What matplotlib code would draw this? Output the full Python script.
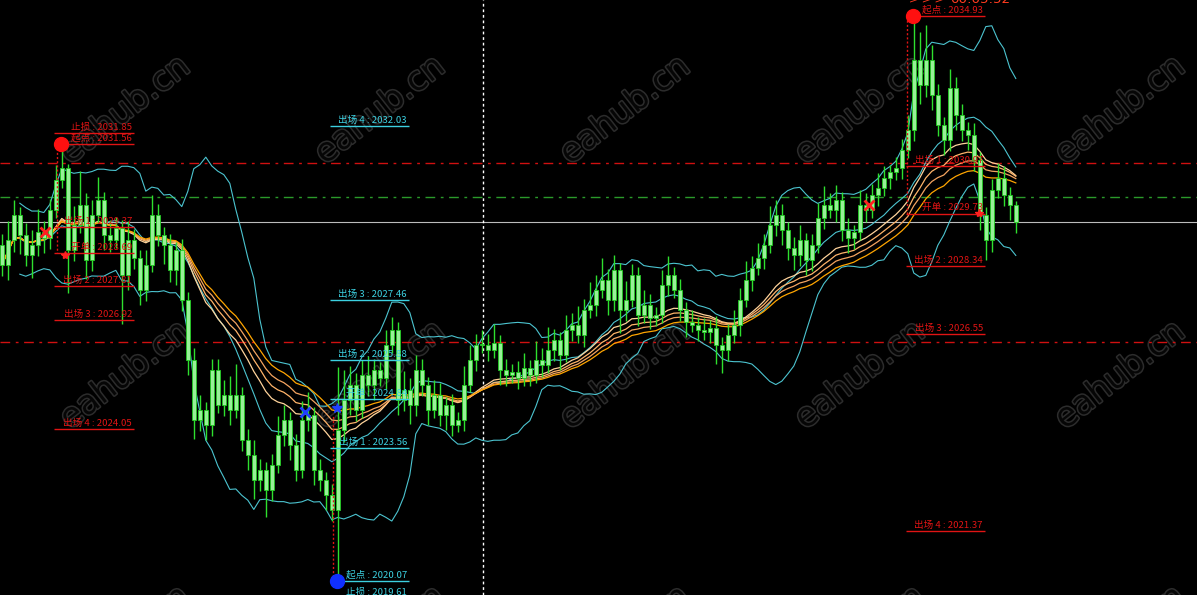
import numpy as np
import pandas as pd
import matplotlib
matplotlib.use('Agg')
import matplotlib.pyplot as plt
import matplotlib.patheffects as pe

# closes, one candle every ~6 px
close = [
    2028.38, 2029.03, 2029.69, 2029.17, 2028.64, 2028.90, 2029.24, 2029.09, 2029.82, 2030.61,
    2030.93, 2028.77, 2029.43, 2029.96, 2028.51, 2029.69, 2030.09, 2029.17, 2029.03, 2029.35,
    2028.11, 2029.03, 2028.56, 2027.72, 2028.38, 2029.69, 2029.17, 2028.90, 2028.24, 2028.77,
    2027.46, 2025.88, 2024.30, 2024.56, 2024.17, 2025.61, 2024.69, 2024.96, 2024.56, 2024.96,
    2023.77, 2023.38, 2022.72, 2022.98, 2022.46, 2023.11, 2023.90, 2024.30, 2023.64, 2022.98,
    2024.30, 2024.43, 2022.98, 2022.72, 2022.32, 2021.93, 2024.03, 2024.82, 2025.22, 2024.56,
    2025.48, 2025.22, 2025.61, 2025.40, 2026.27, 2026.67, 2024.82, 2025.09, 2024.69, 2025.61,
    2025.22, 2024.56, 2024.96, 2024.43, 2024.69, 2024.17, 2024.30, 2025.22, 2025.88, 2026.27,
    2026.27, 2026.14, 2026.32, 2025.61, 2025.48, 2025.56, 2025.40, 2025.67, 2025.48, 2025.88,
    2025.74, 2026.14, 2026.40, 2026.01, 2026.67, 2026.80, 2026.53, 2027.19, 2027.32, 2027.72,
    2027.98, 2027.46, 2028.24, 2027.19, 2027.46, 2028.11, 2027.06, 2027.32, 2026.98, 2027.06,
    2027.85, 2028.11, 2027.72, 2027.19, 2026.88, 2026.80, 2026.67, 2026.61, 2026.72, 2026.27,
    2026.14, 2026.53, 2026.80, 2027.46, 2027.98, 2028.30, 2028.56, 2028.90, 2029.43, 2029.69,
    2029.30, 2028.82, 2028.64, 2029.03, 2028.51, 2028.90, 2029.61, 2029.96, 2029.82, 2030.09,
    2029.30, 2029.09, 2029.24, 2029.96, 2029.82, 2030.22, 2030.40, 2030.67, 2030.82, 2030.93,
    2031.40, 2031.93, 2033.77, 2033.11, 2033.77, 2032.85, 2032.06, 2031.67, 2033.03, 2032.32,
    2031.93, 2031.80, 2031.14, 2029.69, 2029.03, 2030.35, 2030.67, 2030.22, 2029.96, 2029.51,
]
first_open = 2028.90

# wick lengths above / below the body
up_wick = [
    0.3, 0.5, 0.4, 0.2, 0.3, 0.4, 0.6, 0.3, 0.3, 0.4,
    0.63, 0.1, 0.5, 0.9, 0.3, 0.4, 0.6, 0.2, 0.4, 0.3,
    0.2, 0.5, 0.3, 0.2, 0.4, 0.53, 0.3, 0.2, 0.3, 0.2,
    0.3, 0.2, 0.3, 0.4, 0.2, 0.3, 0.3, 0.4, 0.5, 0.8,
    0.2, 0.3, 0.4, 0.3, 0.2, 0.3, 0.5, 0.4, 0.2, 0.3,
    0.5, 0.6, 0.2, 0.3, 0.2, 0.3, 1.67, 0.8, 0.5, 0.3,
    0.4, 0.5, 0.3, 0.2, 0.4, 0.33, 0.2, 0.5, 0.3, 0.4,
    0.3, 0.2, 0.4, 0.3, 0.2, 0.3, 0.2, 0.5, 0.4, 0.3,
    0.4, 0.3, 0.5, 0.2, 0.3, 0.2, 0.3, 0.4, 0.2, 0.5,
    0.3, 0.6, 0.3, 0.2, 0.4, 0.3, 0.5, 0.3, 0.6, 0.4,
    0.58, 0.3, 0.4, 0.2, 0.5, 0.3, 0.2, 0.4, 0.3, 0.2,
    0.4, 0.5, 0.2, 0.3, 0.2, 0.3, 0.2, 0.3, 0.2, 0.3,
    0.2, 0.3, 0.4, 0.3, 0.5, 0.3, 0.4, 0.3, 0.5, 0.4,
    0.3, 0.2, 0.3, 0.4, 0.2, 0.3, 0.4, 0.5, 0.3, 0.4,
    0.2, 0.3, 0.2, 0.4, 0.3, 0.3, 0.4, 0.3, 0.2, 0.3,
    0.3, 0.4, 1.16, 0.73, 0.92, 0.4, 0.3, 0.2, 0.5, 0.3,
    0.3, 0.2, 0.3, 0.2, 0.2, 0.3, 0.4, 0.3, 0.2, 0.1,
]
dn_wick = [
    0.3, 0.4, 0.3, 0.5, 0.3, 0.6, 0.3, 0.4, 0.3, 0.2,
    0.2, 1.13, 0.3, 0.2, 0.5, 0.3, 0.2, 0.4, 0.3, 0.2,
    1.3, 0.4, 0.3, 0.4, 0.3, 0.2, 0.3, 0.5, 0.3, 0.4,
    0.3, 0.4, 0.5, 0.3, 0.4, 0.3, 0.2, 0.3, 0.4, 0.2,
    0.3, 0.4, 0.5, 0.3, 0.71, 0.3, 0.2, 0.3, 0.4, 0.3,
    0.2, 0.3, 0.4, 0.3, 0.4, 0.3, 1.86, 0.3, 0.4, 0.3,
    0.2, 0.3, 0.4, 0.2, 0.3, 0.2, 0.4, 0.3, 0.5, 0.3,
    0.3, 0.4, 0.2, 0.3, 0.4, 0.3, 0.2, 0.3, 0.2, 0.3,
    0.2, 0.3, 0.2, 0.4, 0.3, 0.2, 0.3, 0.2, 0.3, 0.2,
    0.3, 0.2, 0.3, 0.4, 0.2, 0.3, 0.2, 0.3, 0.2, 0.3,
    0.2, 0.4, 0.3, 0.6, 0.3, 0.2, 0.3, 0.2, 0.3, 0.2,
    0.2, 0.3, 0.2, 0.3, 0.4, 0.2, 0.3, 0.2, 0.3, 0.5,
    0.6, 0.3, 0.2, 0.3, 0.2, 0.3, 0.2, 0.3, 0.2, 0.3,
    0.4, 0.3, 0.4, 0.3, 0.4, 0.3, 0.2, 0.3, 0.2, 0.3,
    0.3, 0.4, 0.3, 0.2, 0.3, 0.2, 0.3, 0.2, 0.3, 0.2,
    0.3, 0.2, 0.3, 0.5, 0.3, 0.4, 0.3, 0.4, 0.3, 0.4,
    0.3, 0.4, 0.3, 0.4, 0.53, 0.3, 0.2, 0.3, 0.4, 0.3,
]

# trade level labels (price levels)
left_names = ['止损', '起点', '出场 1', '开单', '出场 2', '出场 3', '出场 4']
left_vals = [2031.85, 2031.56, 2029.37, 2028.69, 2027.81, 2026.92, 2024.05]
mid_names = ['出场 4', '出场 3', '出场 2', '开单', '出场 1', '起点', '止损']
mid_vals = [2032.03, 2027.46, 2025.88, 2024.84, 2023.56, 2020.07, 2019.61]
right_names = ['起点', '出场 1', '开单', '出场 2', '出场 3', '出场 4']
right_vals = [2034.93, 2030.97, 2029.73, 2028.34, 2026.55, 2021.37]

bid = 2029.51
red_levels = [2031.06, 2026.35]
green_level = 2030.17
timer = '00:05:52'

ma_spans = [20, 24, 28, 33]
ma_colors = ['#ffd39b', '#ffb46a', '#f4a460', '#ffa500']

# ---- build ohlc ----
close = np.array(close)
opens = np.concatenate([[first_open], close[:-1]])
highs = np.maximum(opens, close) + np.array(up_wick)
lows = np.minimum(opens, close) - np.array(dn_wick)
idx = np.arange(len(close))
s = pd.Series(close)

W, H = 1197, 595
PX = 6.0  # pixels per candle
fig = plt.figure(figsize=(W / 100, H / 100), dpi=100, facecolor='black')
ax = fig.add_axes([0, 0, 1, 1])
ax.set_facecolor('black')
ax.set_xlim(-0.3, W / PX - 0.3)
ax.set_ylim(2019.69, 2035.35)
ax.set_xticks([])
ax.set_yticks([])
for sp in ax.spines.values():
    sp.set_visible(False)

cjk = ['Noto Sans CJK SC', 'DejaVu Sans']

# watermark, behind everything
for wy in [110, 375, 640]:
    for wx in [125, 380, 625, 860, 1120]:
        ax.text(wx / W, 1 - wy / H, 'eahub.cn', fontsize=24, transform=fig.transFigure,
                color='#060606', rotation=38, ha='center', va='center', zorder=0.5,
                path_effects=[pe.withStroke(linewidth=2.2, foreground='#2c2c2c')])

# bollinger bands
mid = s.rolling(14, min_periods=4).mean()
sd = s.rolling(14, min_periods=4).std(ddof=0)
for band in [mid + 2 * sd, mid - 2 * sd]:
    ax.plot(idx, band, color='#4cc4d0', lw=0.8, zorder=2)
ax.plot(idx, mid, color='#4cc4d0', lw=0.8, zorder=2)

# moving averages
for sp_, c in zip(ma_spans, ma_colors):
    ax.plot(idx, s.ewm(span=sp_).mean(), color=c, lw=0.9, zorder=2)

# horizontal levels
for lv in red_levels:
    ax.axhline(lv, color='#d01010', lw=1, ls=(0, (7, 4, 2, 4)), zorder=1)
ax.axhline(green_level, color='#2a9a2a', lw=1, ls=(0, (7, 4, 2, 4)), zorder=1)
ax.axhline(bid, color='#bcbcbc', lw=0.8, zorder=1)
ax.axvline(481 / PX, color='white', lw=1, ls=(0, (2, 2)), zorder=1)

# candles
ax.vlines(idx, lows, highs, color='#2ee02e', lw=1, zorder=3)
body = np.maximum(np.abs(close - opens), 0.03)
ax.bar(idx, body, bottom=np.minimum(opens, close), width=0.6,
       color='#98f098', edgecolor='#22cc22', lw=0.6, zorder=4)


def level_group(names, vals, x0, x1, color, vx, start, end, dot_col):
    for n, v in zip(names, vals):
        ax.hlines(v, x0 / PX, x1 / PX, color=color, lw=1, zorder=6)
        ax.text(x1 / PX - 0.3, v + 0.03, '%s : %.2f' % (n, v), color=color,
                fontsize=6.9, ha='right', va='bottom', family=cjk, zorder=7)
    ax.plot([vx / PX, vx / PX], [start, end], color=dot_col, lw=1,
            ls=(0, (1.5, 1.5)), zorder=5)


level_group(left_names, left_vals, 52, 132, '#e01414', 55, 2031.56, 2028.69, '#e01414')
level_group(mid_names, mid_vals, 328, 407, '#3cd0e0', 331, 2020.07, 2024.40, '#e01414')
level_group(right_names, right_vals, 904, 983, '#e01414', 905, 2034.93, 2029.73, '#e01414')

# start points
ax.plot(59 / PX, 2031.56, 'o', ms=10, color='#ff1010', zorder=8)
ax.plot(911 / PX, 2034.93, 'o', ms=10, color='#ff1010', zorder=8)
ax.plot(335 / PX, 2020.07, 'o', ms=10, color='#1030ff', zorder=8)

# signal crosses
ax.plot([43 / PX, 867 / PX], [2029.24, 2029.96], 'x', ms=7, mew=2, color='#ff2020', zorder=8)
ax.plot([63 / PX, 977 / PX], [2028.64, 2029.74], '*', ms=6, color='#ff2020', zorder=8)
ax.plot([303 / PX], [2024.51], 'x', ms=7, mew=2, color='#2040ff', zorder=8)
ax.plot([335 / PX], [2024.61], '*', ms=7, color='#2040ff', zorder=8)

# countdown at the top, partly cut by the frame
fig.text(909 / W, 1 - 3 / H, '> > >', color='#ff3b1f', fontsize=8,
         ha='left', va='baseline')
fig.text(950 / W, 1 - 3 / H, timer, color='#ff3b1f', fontsize=9.6,
         ha='left', va='baseline')

fig.savefig('out.png', dpi=100, facecolor='black')
